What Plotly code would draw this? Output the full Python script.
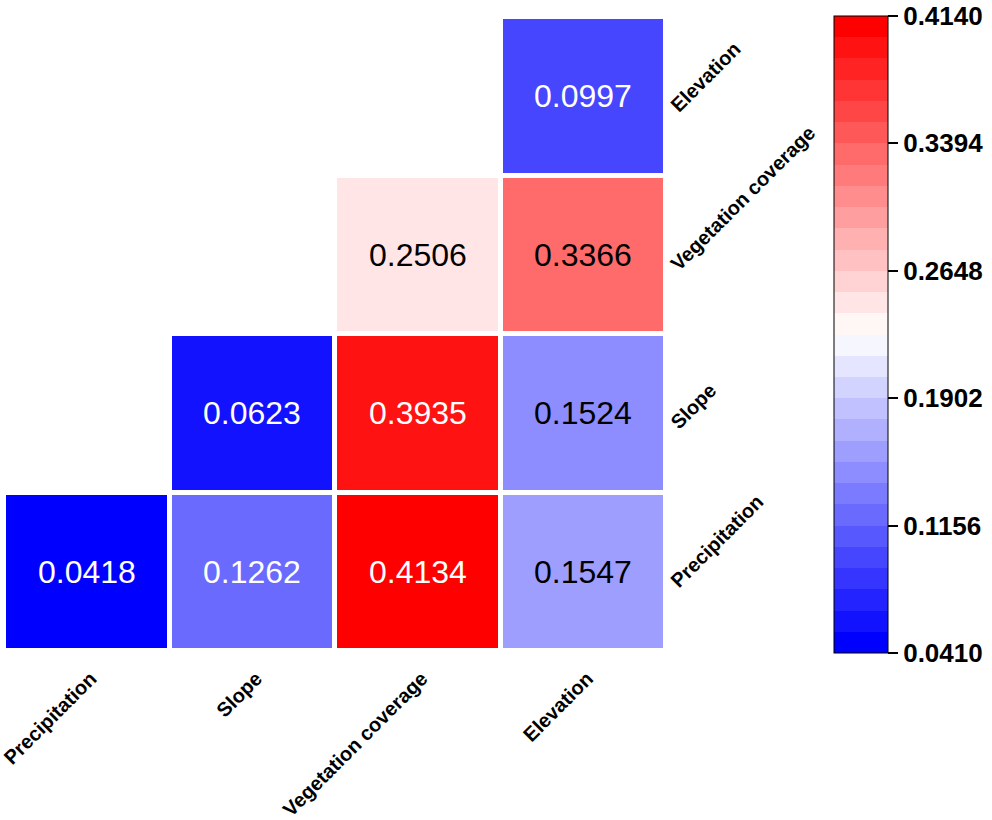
import plotly.graph_objects as go

categories = ["Precipitation", "Slope", "Vegetation coverage", "Elevation"]
# rows bottom -> top, columns left -> right
z_values = [
    [0.0418, 0.1262, 0.4134, 0.1547],
    [None, 0.0623, 0.3935, 0.1524],
    [None, None, 0.2506, 0.3366],
    [None, None, None, 0.0997],
]
zmin, zmax = 0.0410, 0.4140
cbar_ticks = [0.0410, 0.1156, 0.1902, 0.2648, 0.3394, 0.4140]
n_bands = 30


def bwr(t):
    if t <= 0.5:
        f = t * 2
        v = round(255 * f)
        return (v, v, 255)
    f = (t - 0.5) * 2
    v = round(255 * (1 - f))
    return (255, v, v)


band_colors = [bwr(k / (n_bands - 1)) for k in range(n_bands)]
colorscale = []
for k, c in enumerate(band_colors):
    cs = "rgb(%d,%d,%d)" % c
    colorscale.append([k / n_bands, cs])
    colorscale.append([(k + 1) / n_bands, cs])


def cell_color(v):
    t = (v - zmin) / (zmax - zmin)
    k = min(n_bands - 1, max(0, int(t * n_bands)))
    return band_colors[k]


FONT = "Liberation Sans, Arial, sans-serif"

fig = go.Figure()
fig.add_trace(go.Heatmap(
    x=categories, y=categories, z=z_values,
    zmin=zmin, zmax=zmax, colorscale=colorscale,
    xgap=5, ygap=5, hoverongaps=False,
    colorbar=dict(
        x=1.2538, xanchor="left", xref="paper", xpad=0,
        y=1.0016, yanchor="top", ypad=0,
        thickness=54, lenmode="pixels", len=637,
        outlinewidth=1, outlinecolor="black",
        ticks="outside", ticklen=10, tickcolor="black", tickwidth=1.5,
        tickvals=cbar_ticks, ticktext=["%.4f" % v for v in cbar_ticks],
        tickfont=dict(family=FONT, size=26, color="black", weight="bold"),
    ),
))

annotations = []
for r, row in enumerate(z_values):
    for c, v in enumerate(row):
        if v is None:
            continue
        col = cell_color(v)
        lum = 0.299 * col[0] + 0.587 * col[1] + 0.114 * col[2]
        annotations.append(dict(
            x=categories[c], y=categories[r], text="%.4f" % v,
            showarrow=False, xref="x", yref="y",
            font=dict(family=FONT, size=32, color="white" if lum < 140 else "black"),
        ))

fig.update_layout(
    width=992, height=820,
    margin=dict(l=4, r=326, t=17, b=169, autoexpand=False),
    paper_bgcolor="white", plot_bgcolor="white",
    annotations=annotations,
    xaxis=dict(tickangle=-45, showgrid=False, zeroline=False, showline=False, ticks="",
               automargin=False, ticklabelstandoff=11, ticklabelshift=4,
               tickfont=dict(family=FONT, size=20, color="black", weight="bold"),
               fixedrange=True),
    yaxis=dict(side="right", tickangle=-45, showgrid=False, zeroline=False, showline=False,
               ticks="", automargin=False, ticklabelstandoff=5, ticklabelshift=13,
               tickfont=dict(family=FONT, size=20, color="black", weight="bold"),
               fixedrange=True),
    showlegend=False,
)

fig.write_html("out.html", config={"displayModeBar": False},
               post_script="document.body.style.margin='0px';document.body.style.overflow='hidden';")
